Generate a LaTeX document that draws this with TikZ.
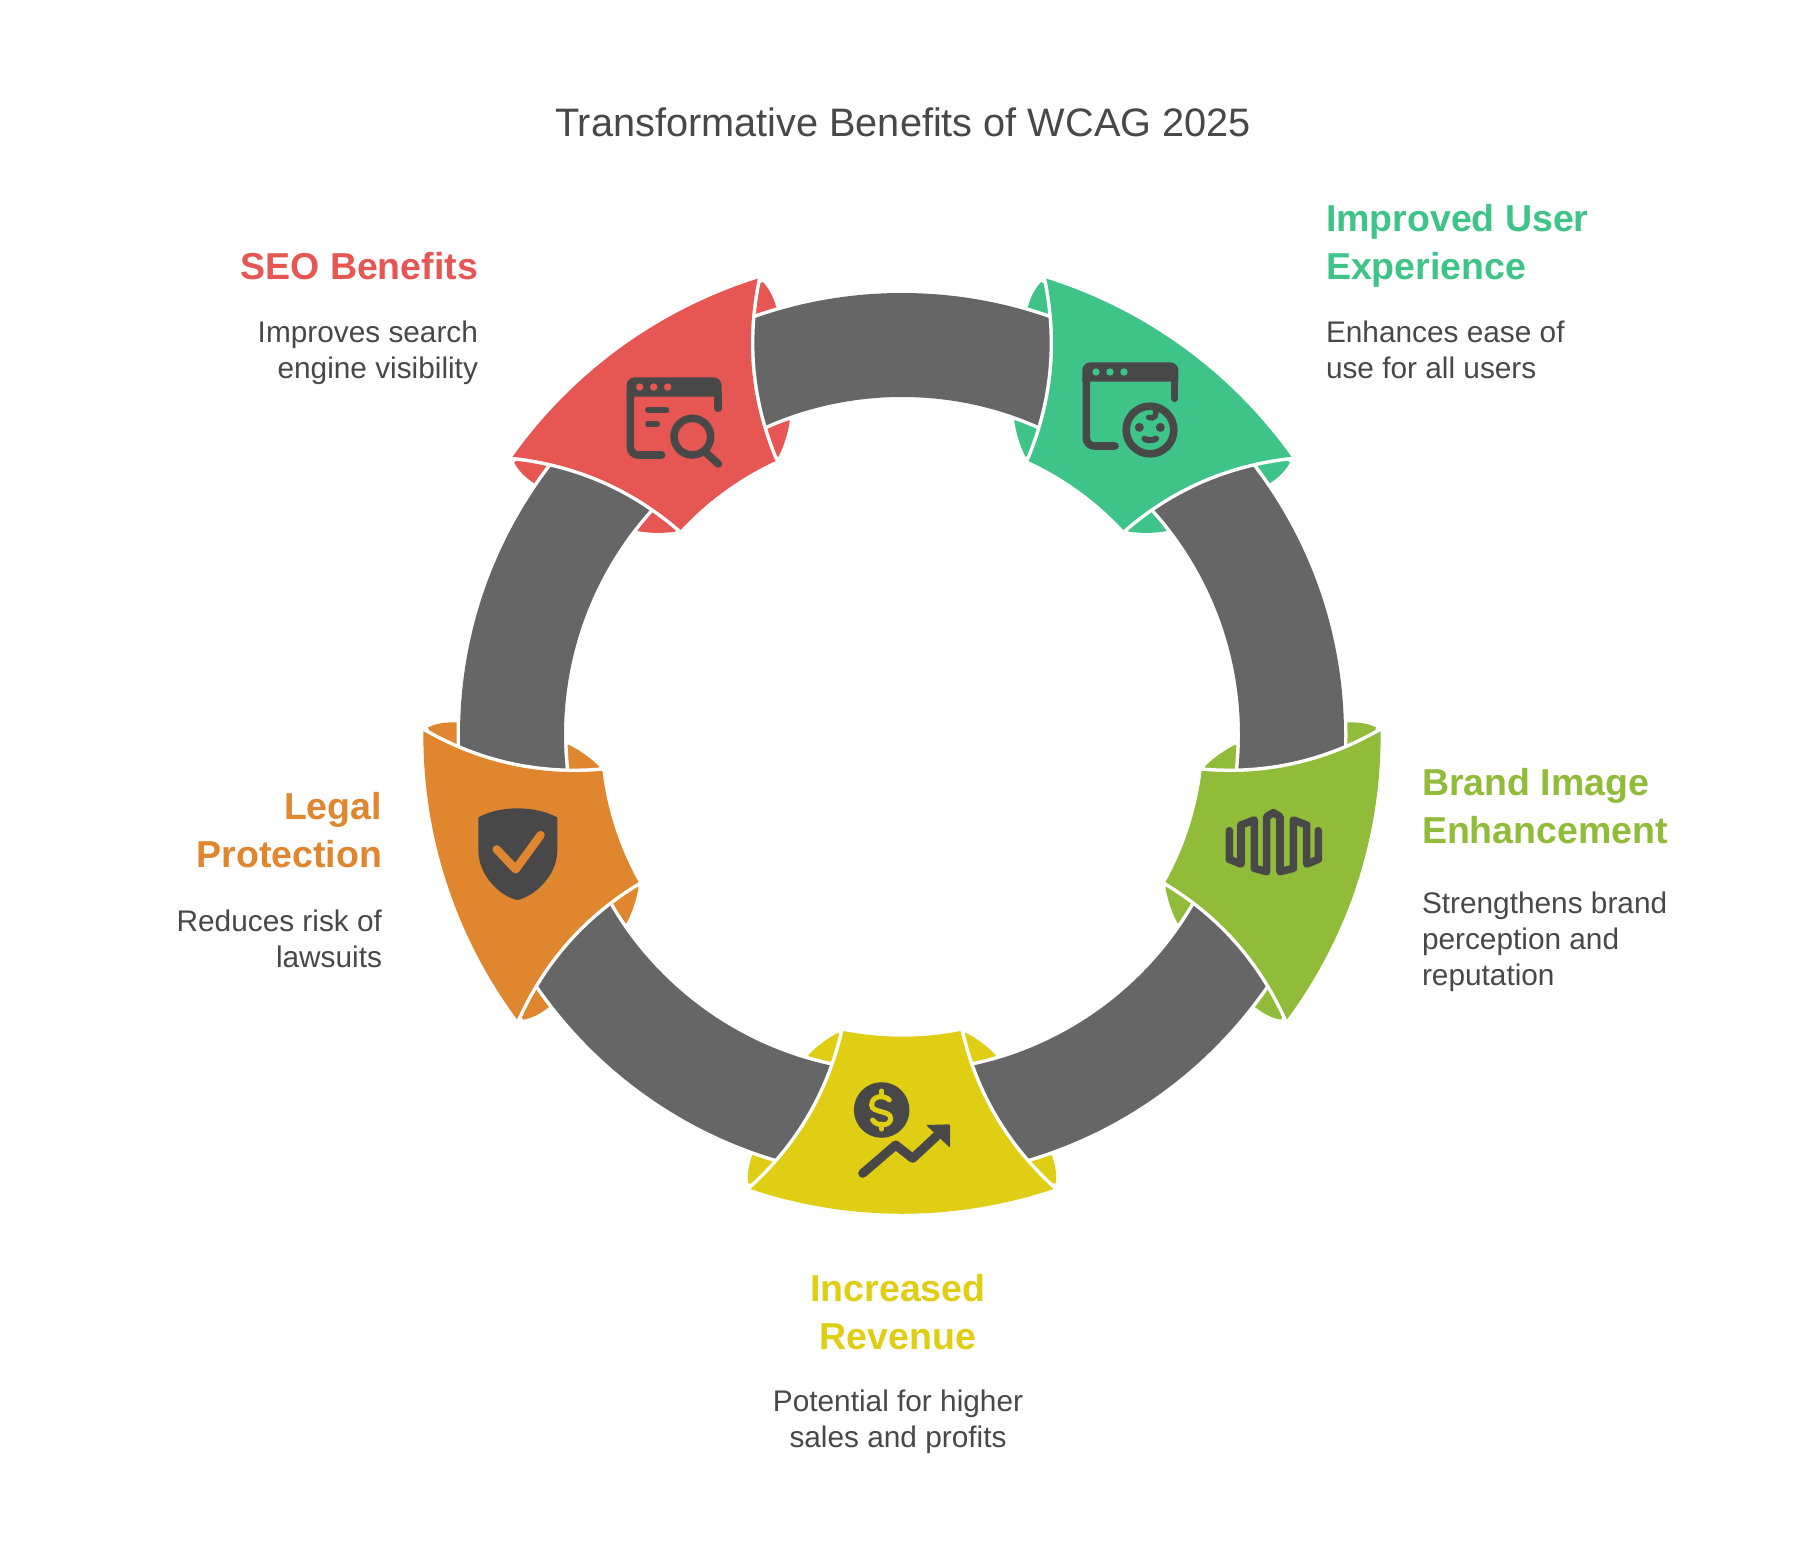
\documentclass[tikz,border=0pt]{standalone}
\usepackage{fontspec}
\setmainfont{Liberation Sans}
\definecolor{cred}{HTML}{E65753}
\definecolor{cgreen}{HTML}{3EC488}
\definecolor{clime}{HTML}{91BC39}
\definecolor{cyel}{HTML}{DFCE13}
\definecolor{cora}{HTML}{DF862F}
\definecolor{cring}{HTML}{666666}
\definecolor{cicon}{HTML}{484848}
\tikzset{
  head/.style={inner sep=0pt,outer sep=0pt,font=\fontsize{37.5}{48}\bfseries\selectfont},
  desc/.style={inner sep=0pt,outer sep=0pt,text=cicon,font=\fontsize{29.8}{36}\selectfont},
  ic/.style={line width=7.6pt,line cap=round,color=cicon},
}
% one segment in local coordinates: y points outward from the ring centre
\newcommand{\segpath}{(-151.5,454) .. controls (-53,487) and (53,487) .. (151.5,454)
  .. controls (103.9,410.9) and (72.9,358.3) .. (58.5,296)
  .. controls (19.9,303.6) and (-19.9,303.6) .. (-58.5,296)
  .. controls (-72.9,358.3) and (-103.9,410.9) .. (-151.5,454) -- cycle}
\newcommand{\flaps}[1]{%
 \foreach \s in {-1,1}{
  \begin{scope}[xscale=\s]
   \fill[#1] (-63.7,297.7) .. controls (-74,303) and (-85,311) .. (-93.7,320) -- (-95,345) -- (-60,345) -- (-50,310) -- cycle;
   \fill[#1] (-153.7,448.3) .. controls (-155,438) and (-153,429) .. (-149.7,420) -- (-149,410) -- (-105,410) -- (-115,440) -- (-140,450) -- cycle;
  \end{scope}}}
\begin{document}
\begin{tikzpicture}[x=1pt,y=1pt]
\useasboundingbox (0,0) rectangle (1804,-1552);
\fill[white] (0,0) rectangle (1804,-1552);
\coordinate (c) at (902,-735);
% flaps behind the ring
\foreach \a/\col in {0/cyel,-72/cora,-144/cred,144/cgreen,72/clime}{
 \begin{scope}[shift={(c)},rotate=\a,yscale=-1]
  \flaps{\col}
 \end{scope}}
% ring with white gap
\draw[white,line width=7pt] (c) circle[radius=442];
\draw[white,line width=7pt] (c) circle[radius=338];
\fill[cring,even odd rule] (c) circle[radius=442] (c) circle[radius=338];
% segments
\foreach \a/\col in {0/cyel,-72/cora,-144/cred,144/cgreen,72/clime}{
 \begin{scope}[shift={(c)},rotate=\a,yscale=-1]
  \draw[white,line width=7pt] \segpath;
  \fill[\col] \segpath;
 \end{scope}}
% red icon
\begin{scope}[shift={(600,-350)},x=1pt/3,y=-1pt/3]
 \fill[cicon] (80,140) [rounded corners=8pt] -- (80,82) -- (365,82) [sharp corners] -- (365,140) -- cycle;
 \draw[ic] (354,130) -- (354,175);
 \draw[ic,rounded corners=8pt] (91,130) -- (91,315) -- (185,315);
 \foreach \x in {119,161,203} \fill[cred] (\x,111) circle[radius=3.7pt];
 \draw[ic,line width=5.2pt] (143,180) -- (200,180);
 \draw[ic,line width=5.2pt] (143,222) -- (172,222);
 \draw[ic] (277,260) circle[radius=18.3pt];
 \draw[ic] (320,310) -- (355,342);
\end{scope}
% green icon
\begin{scope}[shift={(1060,-340)},x=1pt/3,y=-1pt/3]
 \fill[cicon] (67,125) [rounded corners=8pt] -- (67,67) -- (355,67) [sharp corners] -- (355,125) -- cycle;
 \draw[ic] (344,115) -- (344,175);
 \draw[ic,rounded corners=8pt] (79,115) -- (79,318) -- (165,318);
 \foreach \x in {108,150,192} \fill[cgreen] (\x,96) circle[radius=3.7pt];
 \draw[ic] (270,270) circle[radius=23.8pt];
 \fill[cicon] (238,262) circle[radius=4.5pt] (301,262) circle[radius=4.5pt];
 \draw[ic,line width=6pt] (253,296) .. controls (262,302) and (278,302) .. (288,296);
 \draw[ic,line width=5.5pt] (285,205) .. controls (293,225) and (282,240) .. (266,232);
\end{scope}
% orange icon
\begin{scope}[shift={(400,-700)},x=1pt/3,y=-1pt/3]
 \fill[cicon] (235,352) .. controls (300,316) and (404,316) .. (472,352) -- (472,450)
   .. controls (472,530) and (400,590) .. (352,600) .. controls (304,590) and (235,530) .. (235,450) -- cycle;
 \draw[cora,line width=8.3pt,line cap=round,line join=round] (290,448) -- (347,508) -- (422,405);
\end{scope}
% lime icon
\begin{scope}[shift={(1215,-800)},x=1pt/3,y=-1pt/3]
 \draw[ic,line width=7.6pt,line join=round] (43,92) -- (43,178) -- (78,192) -- (78,75) -- (118,60) -- (118,205) -- (155,215) -- (155,50) -- (175,38) -- (195,50) -- (195,215) -- (235,205) -- (235,60) -- (275,75) -- (275,192) -- (310,178) -- (310,92);
\end{scope}
% yellow icon
\begin{scope}[shift={(720,-1010)},x=1pt/3,y=-1pt/3]
 \fill[cicon] (485,300) circle[radius=27.8pt];
 \draw[cyel,line width=5pt,line cap=round] (508,270) .. controls (495,255) and (455,255) .. (455,285) .. controls (455,310) and (512,300) .. (512,325) .. controls (512,350) and (470,350) .. (458,330);
 \draw[cyel,line width=5pt,line cap=round] (485,243) -- (485,258) (485,342) -- (485,357);
 \draw[ic,line width=9pt,line join=round] (428,490) -- (527,405) -- (578,445) -- (650,378);
 \fill[cicon,rounded corners=1pt] (618,345) -- (690,343) -- (690,413) -- cycle;
\end{scope}
% texts
\node[anchor=base,font=\fontsize{39.7}{44}\selectfont,text=cicon,inner sep=0pt] (title) at (903,-136) {Transformative Benefits of WCAG 2025};
\node[head,text=cred,anchor=base east,align=right] (h1) at (478,-279) {SEO Benefits};
\node[desc,anchor=base east,align=right] (d1) at (478,-378.5) {Improves search\\engine visibility};
\node[head,text=cgreen,anchor=base west,align=left] (h2) at (1326,-279) {Improved User\\Experience};
\node[desc,anchor=base west,align=left] (d2) at (1326,-378.5) {Enhances ease of\\use for all users};
\node[head,text=clime,anchor=base west,align=left] (h3) at (1422,-843.5) {Brand Image\\Enhancement};
\node[desc,anchor=base west,align=left] (d3) at (1422,-985.7) {Strengthens brand\\perception and\\reputation};
\node[head,text=cora,anchor=base east,align=right] (h4) at (382,-867.5) {Legal\\Protection};
\node[desc,anchor=base east,align=right] (d4) at (382,-967) {Reduces risk of\\lawsuits};
\node[head,text=cyel,anchor=base,align=center] (h5) at (898,-1349) {Increased\\Revenue};
\node[desc,anchor=base,align=center] (d5) at (898,-1447) {Potential for higher\\sales and profits};
\end{tikzpicture}
\end{document}
